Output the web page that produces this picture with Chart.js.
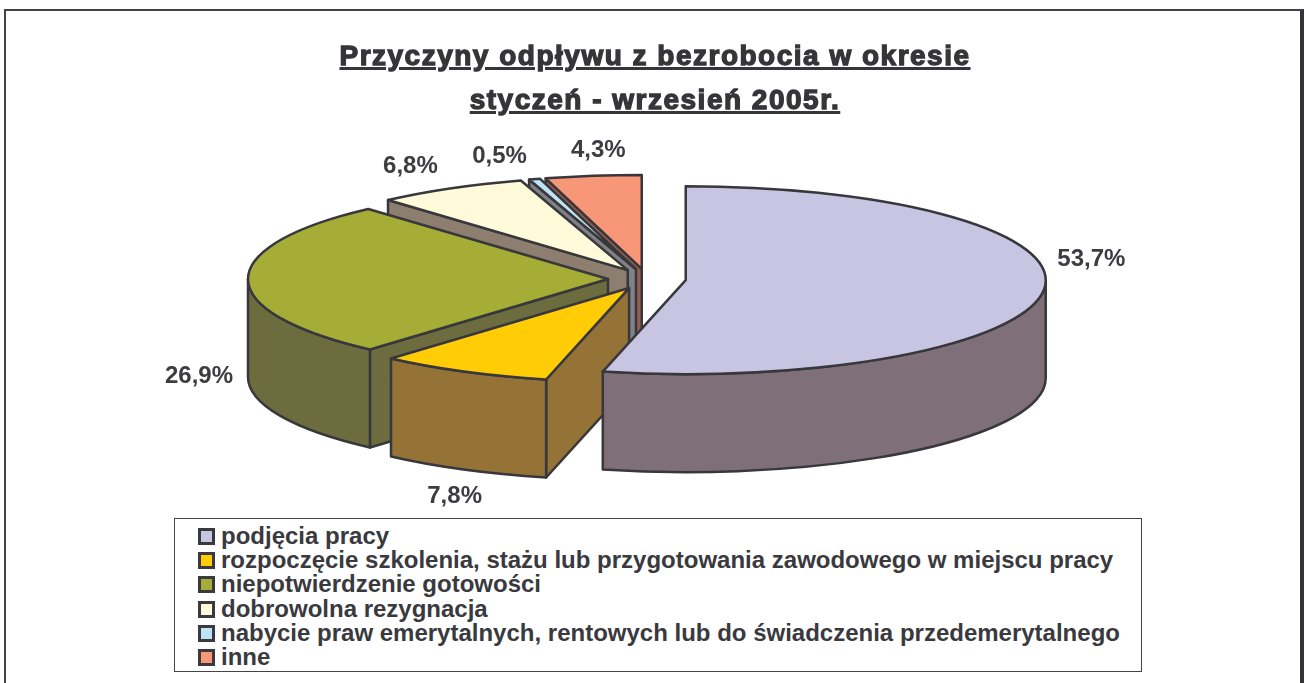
<!DOCTYPE html>
<html lang="pl">
<head>
<meta charset="utf-8">
<title>Przyczyny odpływu z bezrobocia</title>
<script src="https://cdn.jsdelivr.net/npm/chart.js@4"></script>
<style>
html, body { margin: 0; padding: 0; background: #fff; }
#page { position: relative; width: 1304px; height: 683px; overflow: hidden; font-family: "Liberation Sans", Arial, sans-serif; color: #39393e; }
#frame { position: absolute; left: 4px; top: 9px; width: 1294px; height: 700px; border-top: 2px solid #444; border-left: 2px solid #444; border-right: 4px solid #333338; }
#pie { position: absolute; left: 0; top: 0; }
#title { position: absolute; left: 255px; width: 800px; top: 34px; text-align: center; font-weight: bold; font-size: 28px; letter-spacing: 1.5px; line-height: 44px; -webkit-text-stroke: 1.3px #35353a; color: #35353a; }
#title span { text-decoration: underline; text-decoration-thickness: 2.5px; text-underline-offset: 2px; }
#legend { position: absolute; left: 174px; top: 518px; width: 966px; height: 152px; border: 1.5px solid #444; background: #fff; box-sizing: content-box; }
.row { position: absolute; left: 23px; height: 24px; line-height: 24px; font-weight: bold; font-size: 24px; white-space: nowrap; }
.row i { display: inline-block; width: 11px; height: 11px; border: 3px solid #39393e; margin-right: 6px; vertical-align: -1px; }
</style>
</head>
<body>
<div id="page">
  <div id="frame"></div>
  <canvas id="pie" width="1304" height="683"></canvas>
  <div id="title"></div>
  <div id="legend"></div>
</div>
<script>
var titleLines = ['Przyczyny odpływu z bezrobocia w okresie', 'styczeń - wrzesień 2005r.'];
var categories = [
    'podjęcia pracy',
    'rozpoczęcie szkolenia, stażu lub przygotowania zawodowego w miejscu pracy',
    'niepotwierdzenie gotowości',
    'dobrowolna rezygnacja',
    'nabycie praw emerytalnych, rentowych lub do świadczenia przedemerytalnego',
    'inne'
];
var shares = [53.7, 7.8, 26.9, 6.8, 0.5, 4.3];
var topColors = ['#C8C5E3', '#FFCC05', '#A6AD37', '#FFFAD9', '#BFE5F5', '#F89678'];
var sideColors = ['#7F6F78', '#957337', '#6C6C3E', '#8E7E6F', '#7F8186', '#965F50'];

// look of the tilted pie
var tilt = 0.261;
var depth = 98;
var explode = 39;
var edgeColor = '#37373c';
var paintOrder = [5, 4, 3, 2, 1, 0];
// label offset from the middle of each slice's rim
var labelShift = [[48, -32], [-9, 125], [-49, 97], [-40, -22], [-35, -23], [5, -25]];

function sliceCenter(arc) {
    var mid = (arc.startAngle + arc.endAngle) / 2;
    return { x: arc.x + explode * Math.cos(mid), y: arc.y + explode * Math.sin(mid) * tilt };
}

function rimPoint(arc, c, angle) {
    return { x: c.x + arc.outerRadius * Math.cos(angle), y: c.y + arc.outerRadius * tilt * Math.sin(angle) };
}

function shape(ctx, fill, pathFn) {
    ctx.beginPath();
    pathFn();
    ctx.closePath();
    if (fill) {
        ctx.fillStyle = fill;
        ctx.fill();
    }
    ctx.stroke();
}

function drawSlice(ctx, chart, arc, i) {
    var c = sliceCenter(arc);
    var rx = arc.outerRadius, ry = rx * tilt;
    var a0 = arc.startAngle, a1 = arc.endAngle;

    // the cut face at the slice start looks at the viewer on the left half
    if (Math.cos(a0) < 0) {
        var p = rimPoint(arc, c, a0);
        shape(ctx, sideColors[i], function () {
            ctx.moveTo(c.x, c.y);
            ctx.lineTo(p.x, p.y);
            ctx.lineTo(p.x, p.y + depth);
            ctx.lineTo(c.x, c.y + depth);
        });
    }

    // curved outer wall, lower half of the ellipse only
    var w0 = Math.max(a0, 0), w1 = Math.min(a1, Math.PI);
    if (w1 > w0) {
        shape(ctx, sideColors[i], function () {
            ctx.ellipse(c.x, c.y, rx, ry, 0, w0, w1);
            ctx.ellipse(c.x, c.y + depth, rx, ry, 0, w1, w0, true);
        });
    }

    // top face: the library's arc, squeezed into the ellipse
    ctx.save();
    ctx.translate(c.x, c.y);
    ctx.scale(1, tilt);
    ctx.translate(-arc.x, -arc.y);
    arc.draw(ctx, chart.chartArea);
    ctx.restore();

    shape(ctx, null, function () {
        ctx.moveTo(c.x, c.y);
        ctx.ellipse(c.x, c.y, rx, ry, 0, a0, a1);
    });
}

var tiltedPie = {
    id: 'tiltedPie',
    beforeDatasetDraw: function (chart) {
        var ctx = chart.ctx;
        var arcs = chart.getDatasetMeta(0).data;
        ctx.save();
        ctx.strokeStyle = edgeColor;
        ctx.lineWidth = 2.5;
        ctx.lineJoin = 'round';
        paintOrder.forEach(function (i) {
            drawSlice(ctx, chart, arcs[i], i);
        });
        ctx.restore();

        ctx.save();
        ctx.font = 'bold 24px "Liberation Sans", Arial, sans-serif';
        ctx.fillStyle = '#3c3c41';
        ctx.textAlign = 'center';
        ctx.textBaseline = 'middle';
        arcs.forEach(function (arc, i) {
            var mid = (arc.startAngle + arc.endAngle) / 2;
            var p = rimPoint(arc, sliceCenter(arc), mid);
            var text = shares[i].toFixed(1).replace('.', ',') + '%';
            ctx.fillText(text, p.x + labelShift[i][0], p.y + labelShift[i][1]);
        });
        ctx.restore();
        return false;
    }
};

var ctxPie = document.getElementById('pie').getContext('2d');
var pieChart = new Chart(ctxPie, {
    type: 'pie',
    data: {
        labels: categories,
        datasets: [{
            data: shares,
            backgroundColor: topColors,
            borderWidth: 0,
            radius: 360
        }]
    },
    options: {
        responsive: false,
        animation: false,
        layout: { padding: { left: 0, top: 0, right: 10, bottom: 125 } },
        plugins: {
            legend: { display: false },
            title: { display: false },
            tooltip: { enabled: false }
        }
    },
    plugins: [tiltedPie]
});

// title and legend as page text
document.getElementById('title').innerHTML = titleLines.map(function (t) {
    return '<span>' + t + '</span>';
}).join('<br>');

var legendBox = document.getElementById('legend');
categories.forEach(function (name, i) {
    var row = document.createElement('div');
    row.className = 'row';
    row.style.top = (5 + i * 24.2) + 'px';
    row.innerHTML = '<i style="background:' + topColors[i] + '"></i>' + name;
    legendBox.appendChild(row);
});
</script>
</body>
</html>
